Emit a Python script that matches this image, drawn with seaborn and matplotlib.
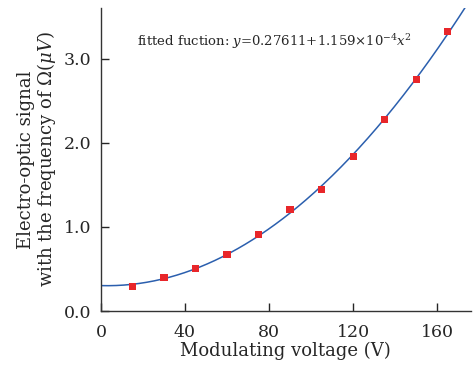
import numpy as np
import matplotlib
matplotlib.use('Agg')
import matplotlib.pyplot as plt
import seaborn as sns

# data
voltage = [15, 30, 45, 60, 75, 90, 105, 120, 135, 150, 165]
signal = [0.293, 0.403, 0.51, 0.672, 0.91, 1.206, 1.447, 1.839, 2.278, 2.748, 3.318]
xticks = [0, 40, 80, 120, 160]
yticks = [0.0, 1.0, 2.0, 3.0]

sns.set_style('ticks')
plt.rcParams['font.family'] = ['DejaVu Serif']
plt.rcParams['mathtext.fontset'] = 'dejavuserif'
plt.rcParams['xtick.direction'] = 'in'
plt.rcParams['ytick.direction'] = 'in'

fig = plt.figure(figsize=(4.74, 3.66), dpi=100)
ax = fig.add_axes([0.213, 0.150, 0.780, 0.828])

# quadratic fit through the measured points
coef = np.polyfit(voltage, signal, 2)
xfit = np.linspace(0, 180, 300)
yfit = np.polyval(coef, xfit)
sns.lineplot(x=xfit, y=yfit, ax=ax, color='#2b5fae', lw=1.1, zorder=2)
sns.scatterplot(x=voltage, y=signal, ax=ax, marker='s', color='#e8262a',
                s=26, edgecolor='none', zorder=3)

ax.set_xlim(0, 176)
ax.set_ylim(0, 3.6)
ax.set_xticks(xticks)
ax.set_yticks(yticks)
ax.set_yticklabels([f'{v:.1f}' for v in yticks])
ax.tick_params(labelsize=12.5, length=6, width=1)
ax.tick_params(axis='x', pad=9)
ax.tick_params(axis='y', pad=7)
sns.despine(ax=ax)
for s in ['left', 'bottom']:
    ax.spines[s].set_linewidth(1.0)
    ax.spines[s].set_color('#333333')

ax.set_xlabel('Modulating voltage (V)', fontsize=13, labelpad=1)
ax.set_ylabel('Electro-optic signal\nwith the frequency of $\\Omega$$(\\mu V)$',
              fontsize=13, labelpad=4, linespacing=1.0)

ax.text(17, 3.2, r'fitted fuction: $y$=0.27611+1.159$\times$10$^{-4}$$x^2$',
        fontsize=9.5, va='center')

fig.savefig('out.png', dpi=100)
